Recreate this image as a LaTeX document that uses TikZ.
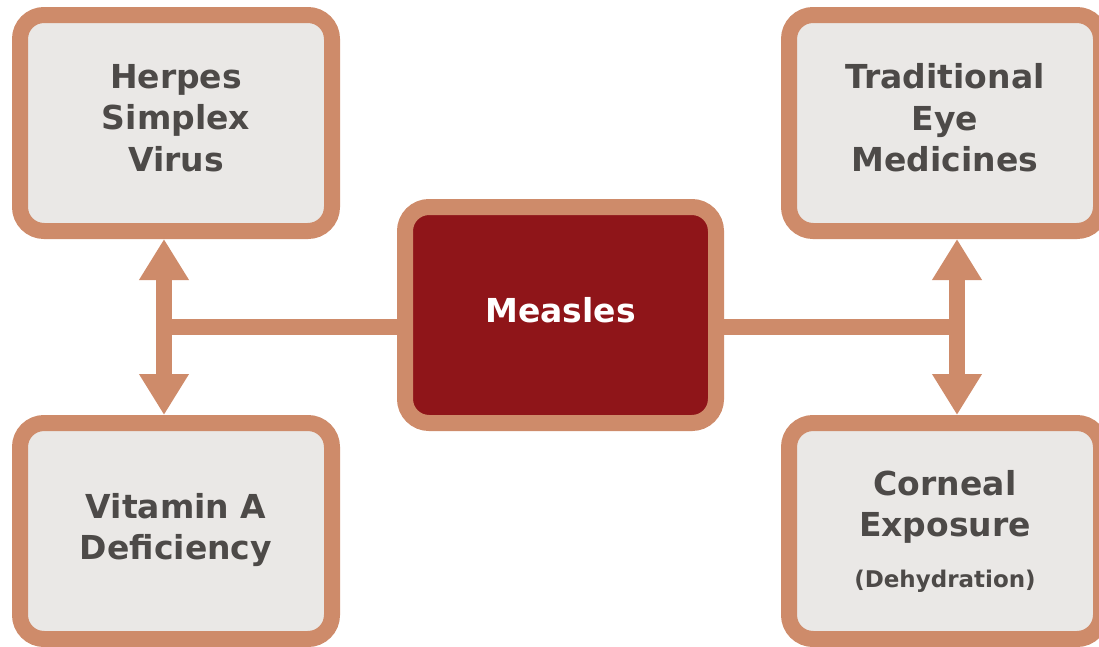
\documentclass[tikz,border=0pt]{standalone}
\usepackage{fontspec}
\setmainfont{DejaVu Sans}
\usetikzlibrary{arrows.meta}
\definecolor{bordc}{HTML}{CE8B6A}
\definecolor{boxfill}{HTML}{EAE8E6}
\definecolor{darkred}{HTML}{8F1519}
\definecolor{txtc}{HTML}{4D4A48}
\tikzset{
  box/.style={draw=bordc, line width=16pt, rounded corners=24pt, fill=boxfill,
    minimum width=312pt, minimum height=216pt, inner sep=0pt},
  mainbox/.style={box, fill=darkred, minimum width=311pt},
  boxtext/.style={align=center, text=txtc, inner sep=0pt,
    font=\bfseries\fontsize{33}{41.5}\selectfont},
  maintext/.style={boxtext, text=white},
  conn/.style={draw=bordc, line width=16pt},
  dblarrow/.style={conn, {Triangle[width=47pt,length=41pt]}-{Triangle[width=47pt,length=41pt]}}
}
\begin{document}
\begin{tikzpicture}[x=1pt,y=-1pt]
\useasboundingbox (0,0) rectangle (1099,646);
\clip (0,0) rectangle (1099,646);
\node[box] (hsv) at (176,123) {};
\node[box] (vad) at (176,531) {};
\node[box] (tem) at (945,123) {};
\node[box] (ce) at (945,531) {};
\node[mainbox] (mea) at (560.5,315) {};
\node[boxtext] (hsvt) at (176,118) {Herpes\\Simplex\\Virus};
\node[boxtext] (vadt) at (176,530) {Vitamin A\\Deficiency};
\node[boxtext] (temt) at (945,118) {Traditional\\Eye\\Medicines};
\node[boxtext] (cet) at (945,531) {Corneal\\Exposure\\[9pt]{\fontsize{23}{28}\selectfont (Dehydration)}};
\node[maintext] (meat) at (560.5,310.5) {Measles};
\coordinate (L) at (164,327);
\coordinate (R) at (957,327);
\draw[conn] (L) -- (L -| mea.west);
\draw[conn] (R) -- (R -| mea.east);
\draw[dblarrow] (L |- hsv.south) -- (L |- vad.north);
\draw[dblarrow] (R |- tem.south) -- (R |- ce.north);
\end{tikzpicture}
\end{document}
